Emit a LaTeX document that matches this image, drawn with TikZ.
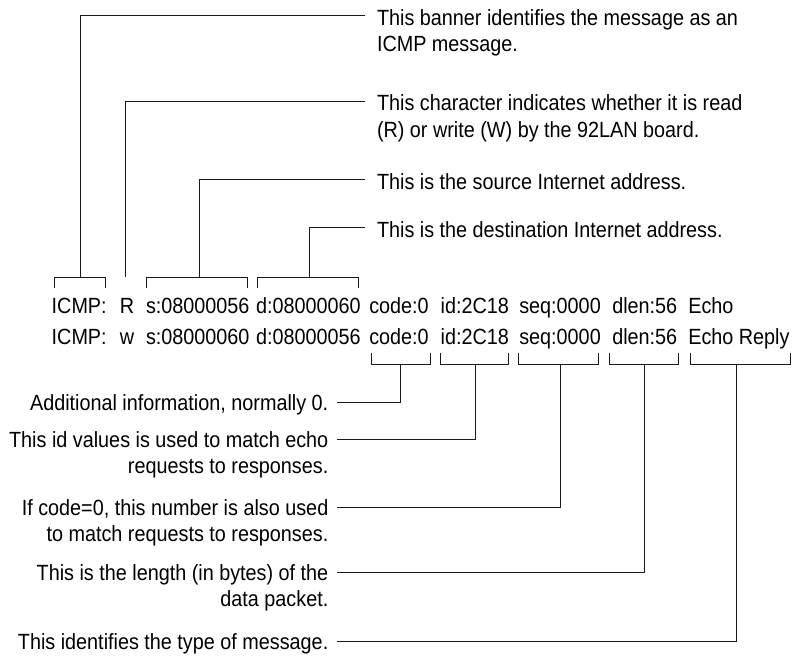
\documentclass[tikz,border=0pt]{standalone}
\usepackage{fontspec}
\setmainfont{Liberation Sans}[FakeStretch=0.9]
\begin{document}
\begin{tikzpicture}[x=1pt,y=-1pt,
  every node/.style={inner sep=0pt, outer sep=0pt, font=\fontsize{22}{26.5}\selectfont},
  tok/.style={anchor=base west},
  topnote/.style={anchor=north west, align=left},
  botnote/.style={anchor=north east, align=right},
  conn/.style={draw=black!90, line width=0.85pt}]
\useasboundingbox (0,0) rectangle (794,656);
% message rows
\node[tok] (icmpA) at (51.7,313) {ICMP:};
\node[anchor=base] (rA) at (127,313) {R};
\node[tok] (sA) at (146,313) {s:08000056};
\node[tok] (dA) at (256,313) {d:08000060};
\node[tok] (cA) at (369.3,313) {code:0};
\node[tok] (iA) at (440.7,313) {id:2C18};
\node[tok] (qA) at (519.3,313) {seq:0000};
\node[tok] (lA) at (612.3,313) {dlen:56};
\node[tok] (eA) at (688.3,313) {Echo};
\node[tok] (icmpB) at (51.7,344) {ICMP:};
\node[anchor=base] (rB) at (127,344) {w};
\node[tok] (sB) at (146,344) {s:08000060};
\node[tok] (dB) at (256,344) {d:08000056};
\node[tok] (cB) at (369.3,344) {code:0};
\node[tok] (iB) at (440.7,344) {id:2C18};
\node[tok] (qB) at (519.3,344) {seq:0000};
\node[tok] (lB) at (612.3,344) {dlen:56};
\node[tok] (eB) at (688.3,344) {Echo Reply};
% notes
\node[topnote] (n1) at (377,9.3) {This banner identifies the message as an\\ICMP message.};
\node[topnote] (n2) at (377,95) {This character indicates whether it is read\\(R) or write (W) by the 92LAN board.};
\node[topnote] (n3) at (377,173.3) {This is the source Internet address.};
\node[topnote] (n4) at (377,221.3) {This is the destination Internet address.};
\node[botnote] (n5) at (328.3,394.3) {Additional information, normally 0.};
\node[botnote] (n6) at (328.3,431.5) {This id values is used to match echo\\requests to responses.};
\node[botnote] (n7) at (328.3,499.3) {If code=0, this number is also used\\to match requests to responses.};
\node[botnote] (n8) at (328.3,564.3) {This is the length (in bytes) of the\\data packet.};
\node[botnote] (n9) at (328.3,633.3) {This identifies the type of message.};
% end points of connectors
\coordinate (k1) at (365,15.3);
\coordinate (k2) at (365,101);
\coordinate (k3) at (365,179.3);
\coordinate (k4) at (365,227.3);
\coordinate (k5) at (337.3,402.3);
\coordinate (k6) at (337.3,439.5);
\coordinate (k7) at (337.3,507.3);
\coordinate (k8) at (337.3,572.3);
\coordinate (k9) at (337.3,641.3);
% top brackets
\draw[conn] (54,288) -- (54,277.3) -- (105.3,277.3) -- (105.3,288);
\draw[conn] (80.7,277.3) |- (k1);
\draw[conn] (125.3,277.3) |- (k2);
\draw[conn] (146,288) -- (146,277.3) -- (247.3,277.3) -- (247.3,288);
\draw[conn] (199.7,277.3) |- (k3);
\draw[conn] (257.3,288) -- (257.3,277.3) -- (358.3,277.3) -- (358.3,288);
\draw[conn] (309.3,277.3) |- (k4);
% bottom brackets
\draw[conn] (371,353) -- (371,364) -- (430.7,364) -- (430.7,353);
\draw[conn] (400.7,364) |- (k5);
\draw[conn] (440.7,353) -- (440.7,364) -- (508.3,364) -- (508.3,353);
\draw[conn] (475.7,364) |- (k6);
\draw[conn] (518.7,353) -- (518.7,364) -- (598.3,364) -- (598.3,353);
\draw[conn] (560,364) |- (k7);
\draw[conn] (609.3,353) -- (609.3,364) -- (678.3,364) -- (678.3,353);
\draw[conn] (644,364) |- (k8);
\draw[conn] (690,353) -- (690,364) -- (790,364) -- (790,353);
\draw[conn] (736,364) |- (k9);
\end{tikzpicture}
\end{document}
